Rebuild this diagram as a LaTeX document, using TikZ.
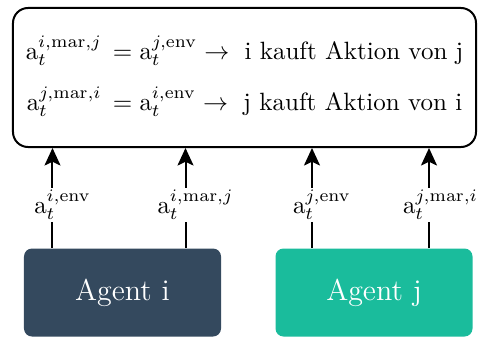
\documentclass[tikz,border=0pt]{standalone}
\usepackage{amsmath}
\usetikzlibrary{arrows.meta,calc}
\definecolor{agentdark}{HTML}{34495E}
\definecolor{agentteal}{HTML}{1ABC9C}
\begin{document}
\begin{tikzpicture}[x=0.4pt,y=-0.4pt,
  agentbox/.style={rounded corners=3.2pt, minimum width=78.8pt, minimum height=35.2pt,
    text=white, font=\large, inner sep=0pt},
  flow/.style={line width=0.8pt, -{Stealth[length=7pt,width=6.4pt,inset=1.5pt]}},
  actlabel/.style={fill=white, inner sep=1pt, xshift=4pt, pos=0.43}]
\useasboundingbox (0,0) rectangle (478,340);

% market rule box
\node[draw, line width=0.8pt, rounded corners=6pt, minimum width=185.2pt,
      minimum height=55.6pt, inner sep=0pt] (market) at (244.5,77.5)
  {$\begin{aligned}
    \mathrm{a}_t^{i,\mathrm{mar},j}\, &= \mathrm{a}_t^{j,\mathrm{env}} \rightarrow\ \text{i kauft Aktion von j}\\[3.5pt]
    \mathrm{a}_t^{j,\mathrm{mar},i}\, &= \mathrm{a}_t^{i,\mathrm{env}} \rightarrow\ \text{j kauft Aktion von i}
  \end{aligned}$};

% agents
\node[agentbox, fill=agentdark] (ai) at (122.5,292.5) {Agent i};
\node[agentbox, fill=agentteal] (aj) at (374,292.5) {Agent j};

% action outputs
\path (ai.north west) ++(29,0) coordinate (s1);
\path (ai.north west) ++(162,0) coordinate (s2);
\path (aj.north west) ++(37,0) coordinate (s3);
\path (aj.north west) ++(154,0) coordinate (s4);

\draw[flow] (s1) -- node[actlabel] {$\mathrm{a}_t^{i,\mathrm{env}}$} (s1 |- market.south);
\draw[flow] (s2) -- node[actlabel] {$\mathrm{a}_t^{i,\mathrm{mar},j}$} (s2 |- market.south);
\draw[flow] (s3) -- node[actlabel] {$\mathrm{a}_t^{j,\mathrm{env}}$} (s3 |- market.south);
\draw[flow] (s4) -- node[actlabel, xshift=0.6pt] {$\mathrm{a}_t^{j,\mathrm{mar},i}$} (s4 |- market.south);
\end{tikzpicture}
\end{document}
